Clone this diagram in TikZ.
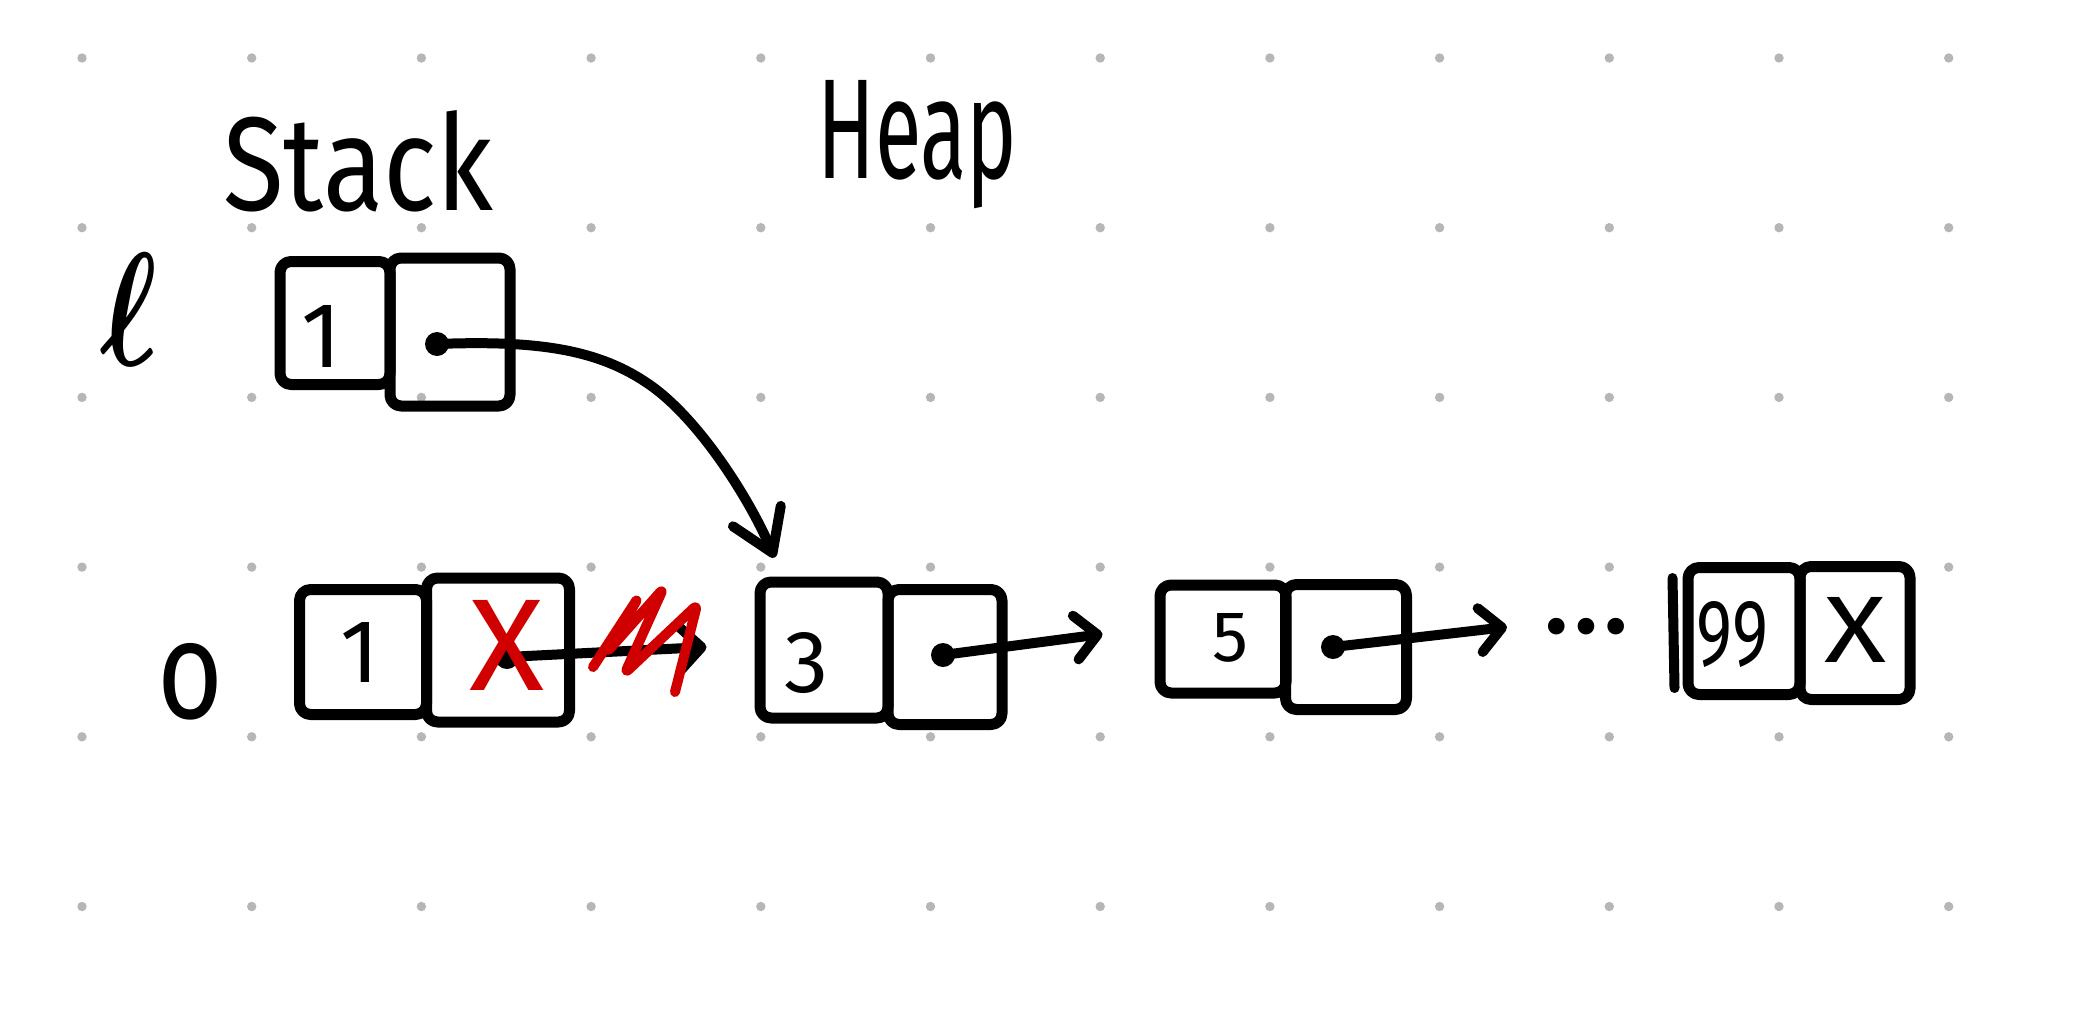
\documentclass[tikz,border=0pt]{standalone}
\usepackage{fontspec}
\newfontfamily\hand{Fira Sans}
\usetikzlibrary{arrows.meta,calc}
\definecolor{dotgray}{RGB}{182,182,182}
\definecolor{xred}{RGB}{208,0,0}
\begin{document}
\begin{tikzpicture}[x=1pt,y=-1pt,
  cell/.style={draw=black, line width=11pt, rounded corners=11pt, inner sep=0pt, line join=round},
  lbl/.style={inner sep=0pt, font=\hand},
  ptr/.style={line width=10pt, line cap=round, line join=round},
  redstroke/.style={draw=xred, line width=10pt, line cap=round, line join=round, rounded corners=5pt},
  curl/.style={-{Straight Barb[length=22pt,width=44pt,round]}},
  vee/.style={-{Straight Barb[length=40pt,width=52pt,round]}}]
\useasboundingbox[fill=white] (0,0) rectangle (2079,1033);
% dot grid
\foreach \i in {0,...,11}
  \foreach \j in {0,...,5}
    \fill[dotgray] ({82+169.7*\i},{58+169.7*\j}) circle (4.7pt);
% headings and variable names
\node[lbl, anchor=base west] (stack) at (223,210) {\resizebox{270pt}{100pt}{Stack}};
\node[lbl, anchor=base west] (heap) at (817,178) {\resizebox{200pt}{98pt}{Heap}};
\node[lbl, anchor=base west] (lname) at (100,365) {\resizebox{57pt}{112pt}{\boldmath$\ell$}};
\node[lbl, anchor=base west] (oname) at (157,718) {\resizebox{66pt}{75pt}{o}};
% cells
\node[cell, minimum width=110pt, minimum height=123pt] (l1) at (335,323) {};
\node[cell, minimum width=120pt, minimum height=148pt] (l2) at (450,332) {};
\node[cell, minimum width=127pt, minimum height=125pt] (o1) at (363,652) {};
\node[cell, minimum width=143pt, minimum height=144pt] (o2) at (498,650) {};
\node[cell, minimum width=128pt, minimum height=136pt] (h3a) at (824,650) {};
\node[cell, minimum width=114pt, minimum height=135pt] (h3b) at (945,657) {};
\node[cell, minimum width=126pt, minimum height=108pt] (h5a) at (1223,639) {};
\node[cell, minimum width=121pt, minimum height=125pt] (h5b) at (1346,647) {};
\node[cell, minimum width=112pt, minimum height=127pt] (h9a) at (1744,631) {};
\node[cell, minimum width=110pt, minimum height=133pt] (h9b) at (1855,633) {};
\draw[ptr] ($(h9a.west)+(-10,-53)$) -- ($(h9a.west)+(-8,57)$);
% cell contents
\node[lbl] (t1) at (322,336) {\resizebox{!}{62pt}{1}};
\node[lbl] (t2) at (360,652) {\resizebox{!}{60pt}{1}};
\node[lbl] (t3) at (807,663) {\resizebox{!}{60pt}{3}};
\node[lbl] (t5) at (1230,638) {\resizebox{!}{48pt}{5}};
\node[lbl] (t99) at (1732,635) {\resizebox{72pt}{64pt}{99}};
\node[lbl] (tx) at (1855,630) {\resizebox{62pt}{65pt}{X}};
\node[lbl] (dots) at (1587,627) {\resizebox{88pt}{!}{…}};
% pointers
\coordinate (ldot) at (437,344);
\coordinate (ltip) at ($(h3a.north west)+(20,-19)$);
\fill (ldot) circle (12pt);
\draw[ptr, vee] (ldot) .. controls (540,340) and (600,350) .. (650,385)
   .. controls (700,420) and (750,500) .. (ltip);
\coordinate (odot) at (507,657);
\coordinate (otip) at ($(h3a.west)+(-48,-3)$);
\fill (odot) circle (12pt);
\draw[ptr, curl] (odot) -- (otip);
\coordinate (adot) at (943,655);
\coordinate (atip) at ($(h5a.west)+(-52,-5)$);
\fill (adot) circle (12pt);
\draw[ptr, curl] (adot) -- (atip);
\coordinate (bdot) at (1333,647);
\coordinate (btip) at (1507,627);
\fill (bdot) circle (12pt);
\draw[ptr, curl] (bdot) -- (btip);
% red strike-out
\node[lbl, text=xred] (rx) at (507,645) {\resizebox{75pt}{90pt}{X}};
\draw[redstroke] (593,667) -- (638,598) -- (607,652) -- (663,589) -- (625,673) -- (697,605) -- (675,692);
\end{tikzpicture}
\end{document}
